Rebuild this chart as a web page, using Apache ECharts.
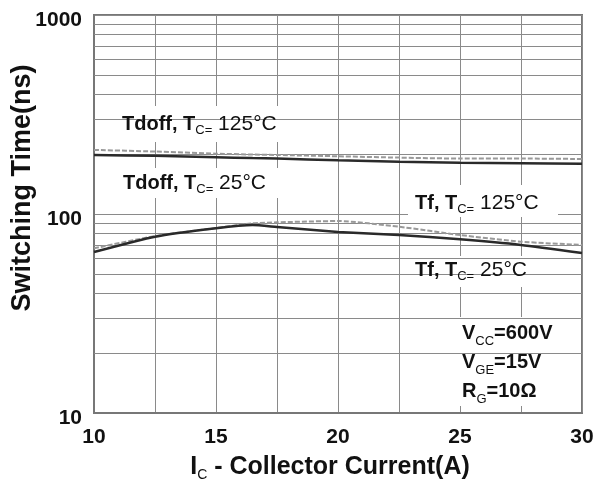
<!DOCTYPE html>
<html>
<head>
<meta charset="utf-8">
<script src="https://cdn.jsdelivr.net/npm/echarts@6/dist/echarts.min.js"></script>
<style>
  html, body { margin: 0; padding: 0; background: #fff; }
  #chart { width: 594px; height: 486px; }
</style>
</head>
<body>
<div id="chart"></div>
<script>
// Collector current (A) sample points
const currentA = [10, 12.5, 15, 16.5, 17.5, 20, 22.5, 25, 27.5, 30];
// Turn-off delay time (ns)
const tdoff125 = [210, 206, 201, 199, 198, 195, 192, 190, 190, 189];
const tdoff25 = [198, 196, 193, 191, 190, 186, 183, 181, 180, 179];
// Fall time (ns)
const tf125 = [67.2, 77.5, 85.0, 89.8, 90.8, 92.2, 86.3, 78.4, 72.6, 69.9];
const tf25 = [64.4, 76.9, 84.8, 88.0, 86.0, 81.2, 78.4, 74.6, 69.9, 63.7];
// Axis ticks
const xTickLabels = [10, 15, 20, 25, 30];
const yTickLabels = [10, 100, 1000];
// Minor log grid lines between decades
const minorGrid = [20, 30, 40, 50, 60, 70, 80, 90, 200, 300, 400, 500, 600, 700, 800, 900];

const FONT = 'Liberation Sans, Arial, sans-serif';
const GRID = '#8a8a8a';

function pairs(ys) {
  return currentA.map((x, i) => [x, ys[i]]);
}

const richLabel = {
  b: { fontFamily: FONT, fontWeight: 'bold', fontSize: 20, lineHeight: 26, fill: '#111', verticalAlign: 'middle' },
  s: { fontFamily: FONT, fontWeight: 'normal', fontSize: 13, lineHeight: 14, fill: '#111', verticalAlign: 'bottom' },
  n: { fontFamily: FONT, fontWeight: 'normal', fontSize: 21, lineHeight: 26, fill: '#111', verticalAlign: 'middle' }
};

function label(x, y, main, temp) {
  return {
    type: 'text', x: x, y: y, z: 6,
    style: {
      text: '{b|' + main + '}{s|C=}{n| ' + temp + '°C}',
      rich: richLabel,
      textVerticalAlign: 'middle'
    }
  };
}
function whiteBox(x, y, w, h) {
  return { type: 'rect', z: 5, shape: { x: x, y: y, width: w, height: h }, style: { fill: '#fff' } };
}

const chart = echarts.init(document.getElementById('chart'), null, { renderer: 'canvas' });

chart.setOption({
  backgroundColor: '#fff',
  animation: false,
  grid: {
    left: 94, right: 12, top: 15, bottom: 73,
    outerBoundsMode: 'none', containLabel: false,
    show: true, borderColor: '#777', borderWidth: 2, backgroundColor: '#fff'
  },
  xAxis: {
    type: 'value', min: 10, max: 30, interval: 2.5,
    axisLine: { show: true, lineStyle: { color: '#777', width: 2 } },
    axisTick: { show: false },
    splitLine: { show: true, lineStyle: { color: GRID, width: 1 } },
    axisLabel: {
      margin: 14, fontFamily: FONT, fontWeight: 'bold', fontSize: 21, color: '#111',
      formatter: v => (xTickLabels.indexOf(v) >= 0 ? String(v) : '')
    },
    name: '{b|I}{s|C}{b| - Collector Current(A)}',
    nameLocation: 'middle', nameGap: 39, nameMoveOverlap: false,
    nameTextStyle: {
      padding: [0, 16, 0, 0],
      rich: {
        b: { fontFamily: FONT, fontWeight: 'bold', fontSize: 25, color: '#111', lineHeight: 30, verticalAlign: 'middle' },
        s: { fontFamily: FONT, fontWeight: 'normal', fontSize: 14, color: '#111', lineHeight: 17, verticalAlign: 'bottom' }
      }
    }
  },
  yAxis: {
    type: 'log', logBase: 10, min: 10, max: 1000,
    axisLine: { show: true, lineStyle: { color: '#777', width: 2 } },
    axisTick: { show: false },
    splitLine: { show: true, lineStyle: { color: GRID, width: 1 } },
    axisLabel: {
      margin: 12, fontFamily: FONT, fontWeight: 'bold', fontSize: 21, color: '#111',
      verticalAlign: 'top', lineHeight: 10,
      formatter: v => (yTickLabels.indexOf(Math.round(v)) >= 0 ? String(Math.round(v)) : '')
    },
    name: 'Switching Time(ns)',
    nameLocation: 'middle', nameGap: 58, nameRotate: 90, nameMoveOverlap: false,
    nameTextStyle: { fontFamily: FONT, fontWeight: 'bold', fontSize: 27, color: '#111', padding: [0, 0, 0, 52] }
  },
  series: [
    {
      name: 'minor-grid', type: 'line', data: [], silent: true, z: 1,
      markLine: {
        silent: true, symbol: 'none', animation: false,
        label: { show: false },
        lineStyle: { color: GRID, width: 1, type: 'solid' },
        emphasis: { disabled: true },
        data: minorGrid.map(v => ({ yAxis: v }))
      }
    },
    {
      name: 'Tdoff 125', type: 'line', data: pairs(tdoff125), smooth: 0.2, showSymbol: false, z: 10,
      lineStyle: { color: '#999', width: 2, type: [5, 2] }
    },
    {
      name: 'Tdoff 25', type: 'line', data: pairs(tdoff25), smooth: 0.2, showSymbol: false, z: 11,
      lineStyle: { color: '#2a2a2a', width: 2.5 }
    },
    {
      name: 'Tf 125', type: 'line', data: pairs(tf125), smooth: 0.2, showSymbol: false, z: 10,
      lineStyle: { color: '#999', width: 2, type: [5, 2] }
    },
    {
      name: 'Tf 25', type: 'line', data: pairs(tf25), smooth: 0.2, showSymbol: false, z: 11,
      lineStyle: { color: '#2a2a2a', width: 2.5 }
    }
  ],
  graphic: [
    whiteBox(115, 106, 170, 36),
    label(122, 124, 'Tdoff, T', '125'),
    whiteBox(100, 168, 190, 30),
    label(123, 183, 'Tdoff, T', '25'),
    whiteBox(408, 185, 150, 32),
    label(415, 203, 'Tf, T', '125'),
    whiteBox(408, 256, 150, 31),
    label(415, 270, 'Tf, T', '25'),
    whiteBox(457, 317, 124, 89),
    {
      type: 'text', x: 462, y: 333, z: 6,
      style: {
        text: '{b|V}{s|CC}{b|=600V}\n{b|V}{s|GE}{b|=15V}\n{b|R}{s|G}{b|=10Ω}',
        textVerticalAlign: 'top',
        rich: {
          b: { fontFamily: FONT, fontWeight: 'bold', fontSize: 20, lineHeight: 29, fill: '#111', verticalAlign: 'middle' },
          s: { fontFamily: FONT, fontWeight: 'normal', fontSize: 13, lineHeight: 16, fill: '#111', verticalAlign: 'bottom' }
        },
        y: -14
      }
    }
  ]
});
</script>
</body>
</html>
